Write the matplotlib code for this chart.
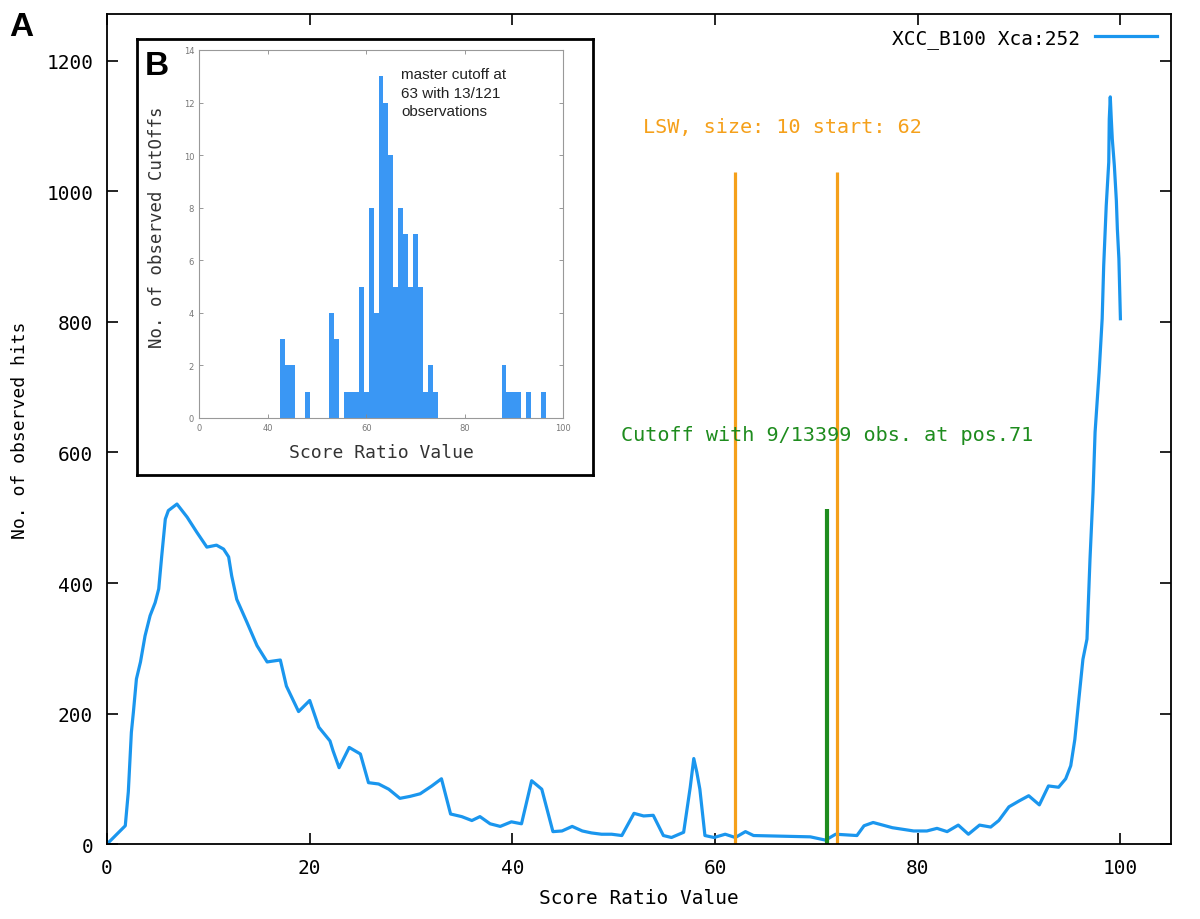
import numpy as np
import matplotlib
matplotlib.use("Agg")
import matplotlib.pyplot as plt

# main curve: hits per score ratio value
score = [0, 1.8, 2.1, 2.4, 2.6, 2.9, 3.3, 3.75, 4.25, 4.75, 5.1, 5.4, 5.75, 6.05,
         6.9, 7.9, 8.85, 9.85, 10.8, 11.5, 12.0, 12.3, 12.8, 13.8, 14.8, 15.8,
         16.2, 17.1, 17.7, 18.9, 20.0, 20.9, 22.0, 22.3, 22.9, 23.9, 25.0, 25.8,
         26.8, 27.8, 28.9, 29.9, 30.9, 32.05, 33.0, 33.9, 35.0, 36.0, 36.8, 37.8,
         38.8, 39.9, 40.9, 41.9, 42.9, 44.0, 44.9, 45.9, 46.9, 47.8, 48.8, 49.8,
         50.8, 52.0, 52.95, 53.9, 54.9, 55.7, 56.9, 57.55, 57.9, 58.2, 58.5, 59.0,
         59.9, 61.0, 62.0, 63.0, 63.8, 69.4, 70.9, 71.9, 74.0, 74.7, 75.6, 77.5,
         79.6, 80.9, 81.9, 82.9, 84.0, 85.0, 86.1, 87.2, 88.0, 89.0, 90.0, 90.95,
         92.0, 92.9, 93.9, 94.6, 95.1, 95.5, 95.9, 96.3, 96.7, 97.0, 97.3, 97.5,
         97.9, 98.2, 98.35, 98.6, 98.85, 98.9, 99.0, 99.1, 99.2, 99.4, 99.6, 99.7,
         99.85, 100.0]
hits = [0, 28, 80, 171, 202, 253, 279, 319, 350, 370, 391, 442, 498, 511,
        521, 501, 478, 455, 458, 452, 440, 411, 375, 340, 304, 279,
        280, 282, 242, 203, 220, 179, 158, 143, 117, 148, 138, 94,
        92, 84, 70, 73, 77, 89, 100, 46, 42, 36, 42, 31,
        27, 34, 31, 97, 84, 19, 20, 27, 20, 17, 15, 15,
        13, 47, 43, 44, 13, 10, 18, 87, 131, 110, 84, 13,
        10, 15, 10, 19, 13, 11, 6, 15, 13, 28, 33, 25,
        20, 20, 24, 19, 29, 15, 29, 26, 36, 57, 66, 74,
        60, 89, 87, 100, 120, 160, 222, 283, 314, 437, 539, 631,
        723, 805, 886, 978, 1045, 1111, 1145, 1111, 1080, 1040, 986, 942,
        897, 805]

lsw_bounds = [62, 72]
lsw_height = 1030
cutoff_pos = 71
cutoff_height = 513

# inset histogram: observed cutoffs
cut_values = [43, 44, 45, 48, 53, 54, 56, 57, 58, 59, 60, 61, 62, 63, 64, 65,
              66, 67, 68, 69, 70, 71, 72, 73, 74, 88, 89, 90, 91, 93, 96]
cut_counts = [3, 2, 2, 1, 4, 3, 1, 1, 1, 5, 1, 8, 4, 13, 12, 10,
              5, 8, 7, 5, 7, 5, 1, 2, 1, 2, 1, 1, 1, 1, 1]

blue = "#1a96ee"
orange = "#f5a01a"
green = "#1e8c1e"
mono = "DejaVu Sans Mono"

fig = plt.figure(figsize=(12, 9.2), dpi=100)
ax = fig.add_axes([0.0892, 0.0815, 0.8867, 0.9022])

ax.plot(score, hits, color=blue, lw=2.3, label="XCC_B100 Xca:252")
ax.vlines(lsw_bounds, 0, lsw_height, color=orange, lw=2.3)
ax.vlines(cutoff_pos, 0, cutoff_height, color=green, lw=3)
ax.text(52.9, 1099, "LSW, size: 10 start: 62", color=orange, family=mono,
        fontsize=14.5, va="center")
ax.text(50.7, 628, "Cutoff with 9/13399 obs. at pos.71", color=green,
        family=mono, fontsize=14.5, va="center")

ax.set_xlim(0, 105)
ax.set_ylim(0, 1272)
ax.set_xticks(range(0, 101, 20))
ax.set_yticks(range(0, 1201, 200))
ax.tick_params(direction="in", length=8, width=1.2, top=True, right=True,
               labelsize=14, pad=10)
for lab in ax.get_xticklabels() + ax.get_yticklabels():
    lab.set_family(mono)
for sp in ax.spines.values():
    sp.set_linewidth(1.3)
ax.set_xlabel("Score Ratio Value", family=mono, fontsize=14, labelpad=8)
ax.set_ylabel("No. of observed hits", family=mono, fontsize=13, labelpad=12)
ax.legend(loc="upper right", frameon=False, markerfirst=False,
          prop={"family": mono, "size": 14}, handlelength=3.2,
          borderaxespad=0.3)

fig.text(0.008, 0.987, "A", fontsize=24, fontweight="bold", va="top",
         family="Liberation Sans")

# inset frame (panel B)
frame = fig.add_axes([137 / 1200, 1 - 476 / 920, 456 / 1200, 436 / 920])
frame.set_xticks([])
frame.set_yticks([])
for sp in frame.spines.values():
    sp.set_linewidth(2)
frame.text(0.018, 0.975, "B", transform=frame.transAxes, fontsize=24,
           fontweight="bold", va="top", family="Liberation Sans")

ins = fig.add_axes([199 / 1200, 1 - 419 / 920, 364 / 1200, 368 / 920])
ins.bar(cut_values, cut_counts, width=1.0, color="#3a97f4", linewidth=0)
ins.set_xlim(26, 100)
ins.set_ylim(0, 14)
ins.set_xticks([26, 40, 60, 80, 100])
ins.set_xticklabels(["0", "40", "60", "80", "100"])
ins.set_yticks(range(0, 15, 2))
ins.tick_params(direction="in", length=3, width=0.6, top=True, right=True,
                labelsize=6, colors="#888888", labelcolor="#777777")
for sp in ins.spines.values():
    sp.set_color("#999999")
    sp.set_linewidth(0.8)
ins.set_xlabel("Score Ratio Value", family=mono, fontsize=13,
               color="#333333", labelpad=8)
ins.set_ylabel("No. of observed CutOffs", family=mono, fontsize=12.5,
               color="#333333")
ins.yaxis.set_label_coords(-0.09, 0.52)
ins.text(0.555, 0.955, "master cutoff at\n63 with 13/121\nobservations",
         transform=ins.transAxes, fontsize=11, va="top",
         family="Liberation Sans", color="#222222", linespacing=1.45)

fig.savefig("out.png", dpi=100)
